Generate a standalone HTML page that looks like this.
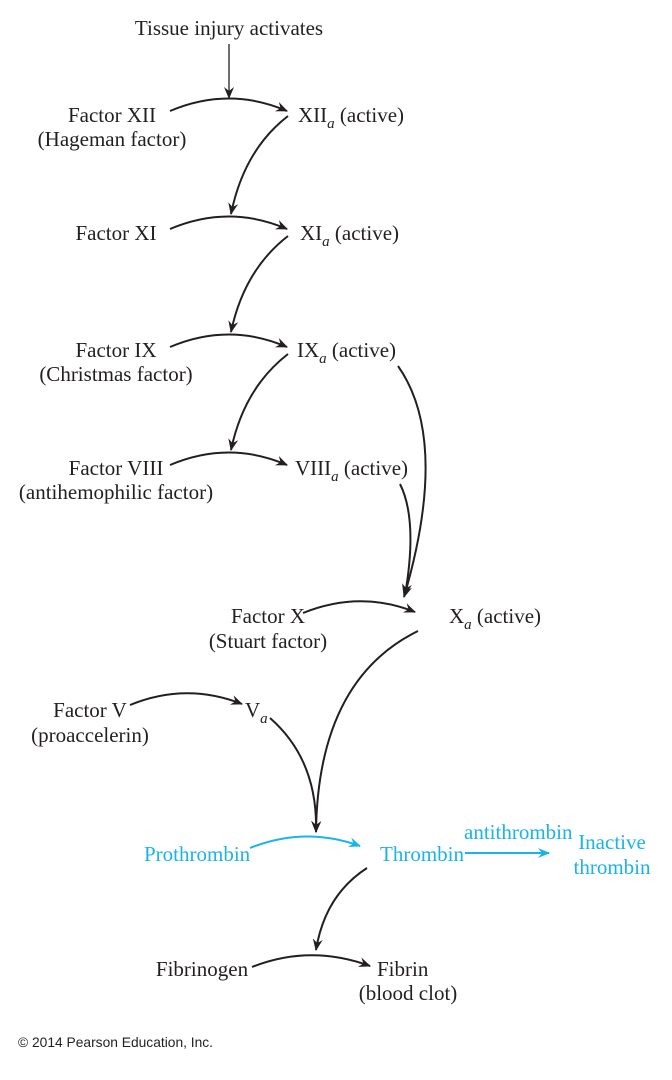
<!DOCTYPE html>
<html><head><meta charset="utf-8"><style>
html,body{margin:0;padding:0;background:#fff;}
svg{display:block;}
text{font-family:"Liberation Serif",serif;font-size:21px;fill:#231f20;}
.c{fill:#1ab3ea;}
</style></head><body>
<svg width="672" height="1080" viewBox="0 0 672 1080" xmlns="http://www.w3.org/2000/svg">
<defs>
<marker id="a" markerWidth="14" markerHeight="14" refX="11" refY="6" orient="auto" markerUnits="userSpaceOnUse"><path d="M0,1 L12,6 L0,11 L4,6 Z" fill="#231f20"/></marker>
<marker id="b" markerWidth="14" markerHeight="14" refX="11" refY="6" orient="auto" markerUnits="userSpaceOnUse"><path d="M0,1 L12,6 L0,11 L4,6 Z" fill="#1ab3ea"/></marker>
</defs>
<g fill="none" stroke="#231f20" stroke-width="2">
<line x1="229" y1="44" x2="229" y2="98" stroke-width="1.3" marker-end="url(#a)"/>
<path d="M170,111 Q229,86 287,111" marker-end="url(#a)"/>
<path d="M288,116 Q244,150 231,214" marker-end="url(#a)"/>
<path d="M170,229 Q229,204 287,229" marker-end="url(#a)"/>
<path d="M288,236 Q244,270 231,332" marker-end="url(#a)"/>
<path d="M170,347 Q229,322 287,347" marker-end="url(#a)"/>
<path d="M288,354 Q244,388 231,450" marker-end="url(#a)"/>
<path d="M170,465 Q229,440 287,465" marker-end="url(#a)"/>
<path d="M398,366 Q450,440 404,597" marker-end="url(#a)"/>
<path d="M400,484 Q418,520 405,595" marker-end="url(#a)"/>
<path d="M303,613 Q360,590 415,612" marker-end="url(#a)"/>
<path d="M130,705 Q186,682 242,704" marker-end="url(#a)"/>
<path d="M270,718 Q318,760 316,832" marker-end="url(#a)"/>
<path d="M418,631 Q318,680 316,832" marker-end="url(#a)"/>
<path d="M367,868 Q325,895 316,950" marker-end="url(#a)"/>
<path d="M252,967 Q310,944 370,966" marker-end="url(#a)"/>
</g>
<g fill="none" stroke="#1ab3ea" stroke-width="2">
<path d="M250,848 Q305,826 360,846" marker-end="url(#b)"/>
<line x1="465" y1="853" x2="549" y2="853" marker-end="url(#b)"/>
</g>
<text x="229" y="35" text-anchor="middle">Tissue injury activates</text>
<text x="112" y="122" text-anchor="middle">Factor XII</text>
<text x="112" y="146" text-anchor="middle">(Hageman factor)</text>
<text x="298" y="122">XII<tspan font-style="italic" font-size="15" dy="6">a</tspan><tspan dy="-6"> (active)</tspan></text>
<text x="116" y="240" text-anchor="middle">Factor XI</text>
<text x="300" y="240">XI<tspan font-style="italic" font-size="15" dy="6">a</tspan><tspan dy="-6"> (active)</tspan></text>
<text x="116" y="357" text-anchor="middle">Factor IX</text>
<text x="116" y="381" text-anchor="middle">(Christmas factor)</text>
<text x="297" y="357">IX<tspan font-style="italic" font-size="15" dy="6">a</tspan><tspan dy="-6"> (active)</tspan></text>
<text x="116" y="475" text-anchor="middle">Factor VIII</text>
<text x="116" y="499" text-anchor="middle">(antihemophilic factor)</text>
<text x="295" y="475">VIII<tspan font-style="italic" font-size="15" dy="6">a</tspan><tspan dy="-6"> (active)</tspan></text>
<text x="268" y="623" text-anchor="middle">Factor X</text>
<text x="268" y="648" text-anchor="middle">(Stuart factor)</text>
<text x="449" y="623">X<tspan font-style="italic" font-size="15" dy="6">a</tspan><tspan dy="-6"> (active)</tspan></text>
<text x="90" y="717" text-anchor="middle">Factor V</text>
<text x="90" y="742" text-anchor="middle">(proaccelerin)</text>
<text x="245" y="717">V<tspan font-style="italic" font-size="15" dy="6">a</tspan></text>
<text class="c" x="144" y="861">Prothrombin</text>
<text class="c" x="380" y="861">Thrombin</text>
<text class="c" x="464" y="839">antithrombin</text>
<text class="c" x="612" y="849" text-anchor="middle">Inactive</text>
<text class="c" x="612" y="874" text-anchor="middle">thrombin</text>
<text x="202" y="976" text-anchor="middle">Fibrinogen</text>
<text x="377" y="976">Fibrin</text>
<text x="408" y="1000" text-anchor="middle">(blood clot)</text>
<text x="18" y="1047" style="font-family:'Liberation Sans',sans-serif;font-size:13.8px;">© 2014 Pearson Education, Inc.</text>
</svg>
</body></html>
